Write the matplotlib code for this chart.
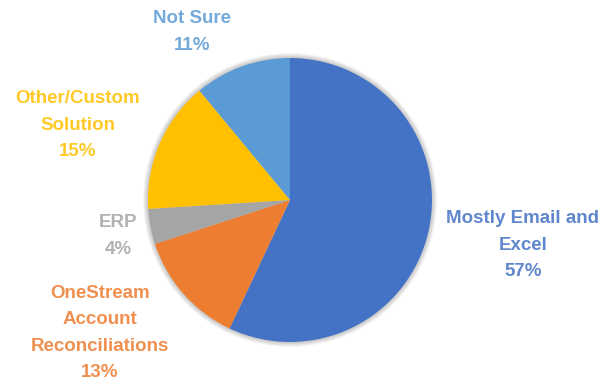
import matplotlib
matplotlib.use("Agg")
import matplotlib.pyplot as plt
from matplotlib.patches import Circle

# Datos del gráfico (orden horario desde las 12)
categorias = [
    "Mostly Email and\nExcel",
    "OneStream\nAccount\nReconciliations",
    "ERP",
    "Other/Custom\nSolution",
    "Not Sure",
]
porcentajes = [57, 13, 4, 15, 11]
colores = ["#4472C4", "#ED7D31", "#A5A5A5", "#FFC000", "#5B9BD5"]

# Posición de cada etiqueta (en píxeles de la figura)
pos_etiquetas = [(523, 245), (100, 333), (118, 236), (78, 125), (192, 32)]

ANCHO, ALTO = 605, 387
CENTRO = (290, ALTO - 200)
RADIO = 142

fig = plt.figure(figsize=(ANCHO / 100, ALTO / 100), dpi=100)
ax = fig.add_axes([0, 0, 1, 1])

# Sombra suave alrededor de la tarta
for i in range(6):
    ax.add_patch(Circle(CENTRO, RADIO + 1 + i * 0.8, color="black",
                        alpha=0.035, lw=0, zorder=0))

ax.pie(
    porcentajes,
    colors=colores,
    startangle=90,
    counterclock=False,
    center=CENTRO,
    radius=RADIO,
    wedgeprops={"linewidth": 0},
)

for texto, valor, color, (x, y) in zip(categorias, porcentajes, colores, pos_etiquetas):
    ax.text(
        x, ALTO - y, f"{texto}\n{valor}%",
        ha="center", va="center", color=color,
        fontsize=13.5, fontweight="bold", family="Liberation Sans",
        linespacing=1.72, alpha=0.85,
    )

ax.set_xlim(0, ANCHO)
ax.set_ylim(0, ALTO)
ax.set_aspect("equal")
ax.axis("off")

fig.savefig("out.png", dpi=100)
plt.close(fig)
